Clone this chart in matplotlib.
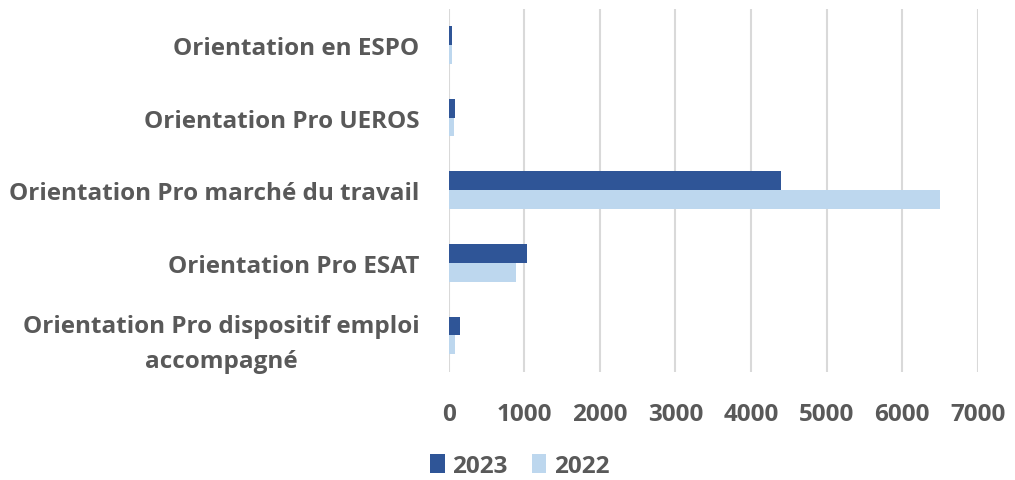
import matplotlib.pyplot as plt
import numpy as np

categories = ["Orientation en ESPO",
              "Orientation Pro UEROS",
              "Orientation Pro marché du travail",
              "Orientation Pro ESAT",
              "Orientation Pro dispositif emploi\naccompagné"]
values_2023 = [40, 85, 4390, 1040, 150]
values_2022 = [40, 70, 6500, 887, 90]
xticks = [0, 1000, 2000, 3000, 4000, 5000, 6000, 7000]

text_color = "#595959"
plt.rcParams['font.family'] = ['Open Sans', 'DejaVu Sans']

fig = plt.figure(figsize=(10.15, 4.81), dpi=100)
ax = fig.add_axes([0.442, 0.225, 0.5215, 0.755])

y = np.arange(len(categories))
h = 0.26
ax.barh(y - h / 2, values_2023, height=h, color="#2F5597", label="2023", zorder=3)
ax.barh(y + h / 2, values_2022, height=h, color="#BDD7EE", label="2022", zorder=3)

ax.set_ylim(len(categories) - 0.5, -0.5)
ax.set_xlim(0, 7000)
ax.set_xticks(xticks)
ax.set_xticklabels([str(t) for t in xticks], fontsize=17.5, fontweight="bold", color=text_color)
ax.set_yticks(y)
ax.set_yticklabels(categories, fontsize=17.5, fontweight="bold", color=text_color)
ax.tick_params(axis="y", length=0, pad=21)
ax.tick_params(axis="x", length=0, pad=22)
for lab in ax.get_yticklabels():
    lab.set_multialignment("center")
    lab.set_linespacing(1.6)

ax.grid(axis="x", color="#D9D9D9", linewidth=1.5, zorder=0)
for s in ax.spines.values():
    s.set_visible(False)

fig.legend(loc="center", bbox_to_anchor=(0.512, 0.029), ncol=2, frameon=False,
           prop={"size": 17.5, "weight": "bold"}, labelcolor=text_color,
           handlelength=0.6, handleheight=0.8, handletextpad=0.3, columnspacing=1.0)

fig.savefig("out.png", dpi=100)
